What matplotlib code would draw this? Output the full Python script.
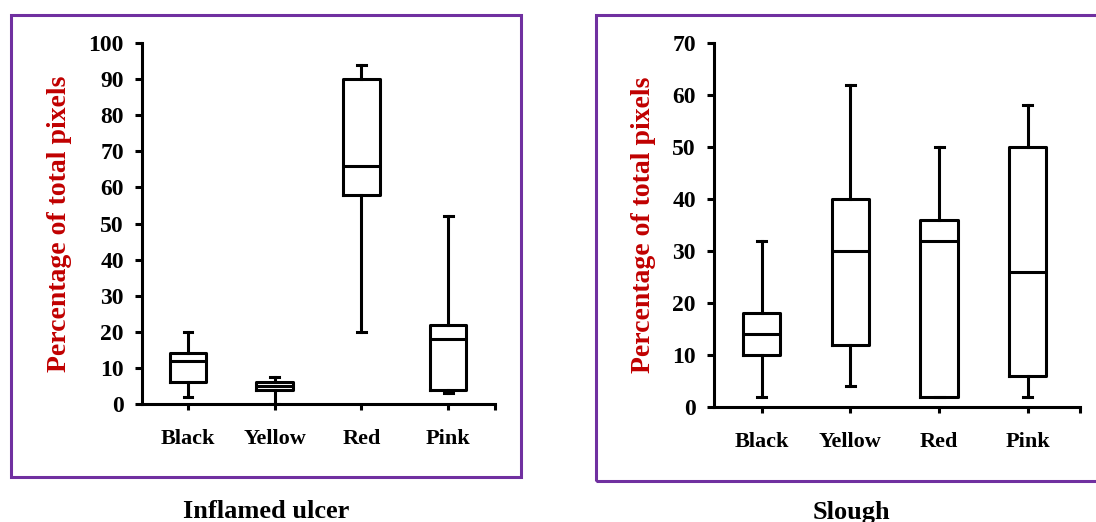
import matplotlib
matplotlib.use("Agg")
import matplotlib.pyplot as plt
from matplotlib.patches import Rectangle

# category labels shared by both panels
categories = ["Black", "Yellow", "Red", "Pink"]

# five-number summaries: whislo, q1, med, q3, whishi
ulcer_low = [2, 0, 20, 3]
ulcer_q1 = [6, 4, 58, 4]
ulcer_med = [12, 5, 66, 18]
ulcer_q3 = [14, 6, 90, 22]
ulcer_high = [20, 7.5, 94, 52]

slough_low = [2, 4, 2, 2]
slough_q1 = [10, 12, 2, 6]
slough_med = [14, 30, 32, 26]
slough_q3 = [18, 40, 36, 50]
slough_high = [32, 62, 50, 58]

ulcer_yticks = list(range(0, 101, 10))
slough_yticks = list(range(0, 71, 10))

W, H = 1096, 522
PURPLE = "#7030A0"
DARKRED = "#C00000"
FONT = "Liberation Serif"


def stats(lo, q1, med, q3, hi):
    return [dict(whislo=a, q1=b, med=c, q3=d, whishi=e, fliers=[])
            for a, b, c, d, e in zip(lo, q1, med, q3, hi)]


def panel(fig, rect_px, data, yticks, xlim, title, title_x):
    x0, ytop, x1, ybot = rect_px
    ax = fig.add_axes([x0 / W, 1 - ybot / H, (x1 - x0) / W, (ybot - ytop) / H])
    lw = 2.2
    ax.bxp(data, positions=range(1, 5), widths=0.42, showfliers=False,
           boxprops=dict(linewidth=lw, color="black"),
           whiskerprops=dict(linewidth=lw, color="black"),
           capprops=dict(linewidth=lw, color="black"),
           medianprops=dict(linewidth=lw, color="black"),
           capwidths=0.1)
    ax.set_xlim(*xlim)
    ax.set_ylim(yticks[0], yticks[-1])
    for s in ["top", "right"]:
        ax.spines[s].set_visible(False)
    for s in ["left", "bottom"]:
        ax.spines[s].set_linewidth(lw)
    ax.set_xticks(list(range(1, 5)) + [xlim[1]])
    ax.set_xticklabels(categories + [""])
    ax.set_yticks(yticks)
    ax.tick_params(axis="y", direction="out", length=5, width=lw, pad=8)
    ax.tick_params(axis="x", direction="out", length=4, width=lw, pad=14)
    for lab in ax.get_xticklabels():
        lab.set_fontfamily(FONT)
        lab.set_fontweight("bold")
        lab.set_fontsize(16)
    for lab in ax.get_yticklabels():
        lab.set_fontfamily(FONT)
        lab.set_fontweight("bold")
        lab.set_fontsize(17)
    ax.set_ylabel("Percentage of total pixels", fontfamily=FONT,
                  fontweight="bold", fontsize=20, color=DARKRED, labelpad=12)
    ax.patch.set_alpha(0)
    fig.text(title_x / W, 1 - 512 / H, title, ha="center", va="center",
             fontfamily=FONT, fontweight="bold", fontsize=19)
    return ax


fig = plt.figure(figsize=(W / 100, H / 100), dpi=100)

# purple frames around each panel
fig.patches.append(Rectangle((11 / W, 1 - 477 / H), (521 - 11) / W, (477 - 15) / H,
                             transform=fig.transFigure, fill=False,
                             edgecolor=PURPLE, linewidth=2.2))
fig.patches.append(Rectangle((596 / W, 1 - 481 / H), (1110 - 596) / W, (481 - 15) / H,
                             transform=fig.transFigure, fill=False,
                             edgecolor=PURPLE, linewidth=2.2))

panel(fig, (142, 43, 495, 404),
      stats(ulcer_low, ulcer_q1, ulcer_med, ulcer_q3, ulcer_high),
      ulcer_yticks, (0.47, 4.54), "Inflamed ulcer", 266)
panel(fig, (714, 43, 1080, 407),
      stats(slough_low, slough_q1, slough_med, slough_q3, slough_high),
      slough_yticks, (0.46, 4.59), "Slough", 851)

fig.savefig("out.png", dpi=100)
